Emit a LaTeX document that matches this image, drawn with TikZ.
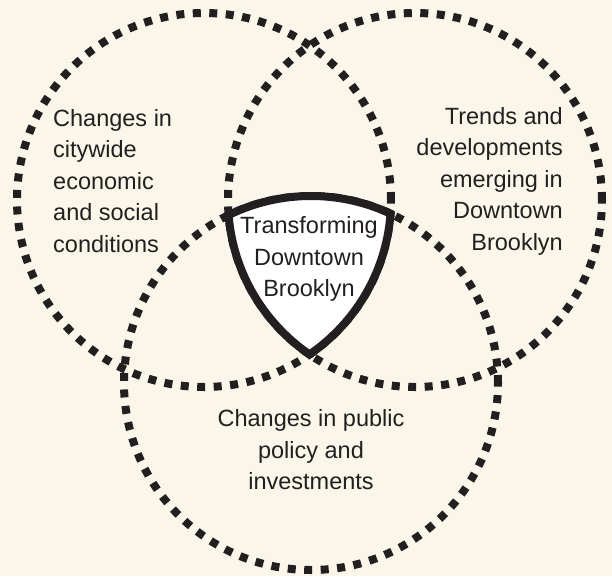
\documentclass[tikz,border=0pt]{standalone}
\usepackage{fontspec}
\setmainfont{Liberation Sans}
\usepackage{tikz}
\definecolor{cream}{HTML}{FAF7EA}
\definecolor{ink}{HTML}{231F20}
\tikzset{
  ring/.style={draw=ink, line width=8pt, dash pattern=on 8pt off 8.5pt},
  core/.style={draw=ink, line width=8pt},
  txt/.style={text=ink, inner sep=0pt, font=\fontsize{23.5}{31.5}\selectfont}
}

\begin{document}
\begin{tikzpicture}[x=1pt,y=-1pt]
	\fill[cream] (0,0) rectangle (612,576);
	\coordinate (lc) at (204,200);
	\coordinate (rc) at (415,200);
	\coordinate (bc) at (311,383);
	% dotted circles
	\draw[ring] (lc) circle (187pt);
	\draw[ring] (rc) circle (187pt);
	\draw[ring] (bc) circle (187pt);
	% white centre
	\begin{scope}
		\clip (lc) circle (187pt);
		\clip (rc) circle (187pt);
		\fill[white] (bc) circle (187pt);
	\end{scope}
	% thick outline of the centre
	\begin{scope}
		\clip (rc) circle (191pt);
		\clip (bc) circle (191pt);
		\draw[core] (lc) circle (187pt);
	\end{scope}
	\begin{scope}
		\clip (lc) circle (191pt);
		\clip (bc) circle (191pt);
		\draw[core] (rc) circle (187pt);
	\end{scope}
	\begin{scope}
		\clip (lc) circle (191pt);
		\clip (rc) circle (191pt);
		\draw[core] (bc) circle (187pt);
	\end{scope}
	\node[txt, align=left, anchor=west] (citywide) at (53,181) {Changes in\\citywide\\economic\\and social\\conditions};
	\node[txt, align=right, anchor=east] (trends) at (563,181) {Trends and\\developments\\emerging in\\Downtown\\Brooklyn};
	\node[txt, align=center] (core) at (309,259) {Transforming\\Downtown\\Brooklyn};
	\node[txt, align=center] (policy) at (311,450) {Changes in public\\policy and\\investments};
\end{tikzpicture}
\end{document}
